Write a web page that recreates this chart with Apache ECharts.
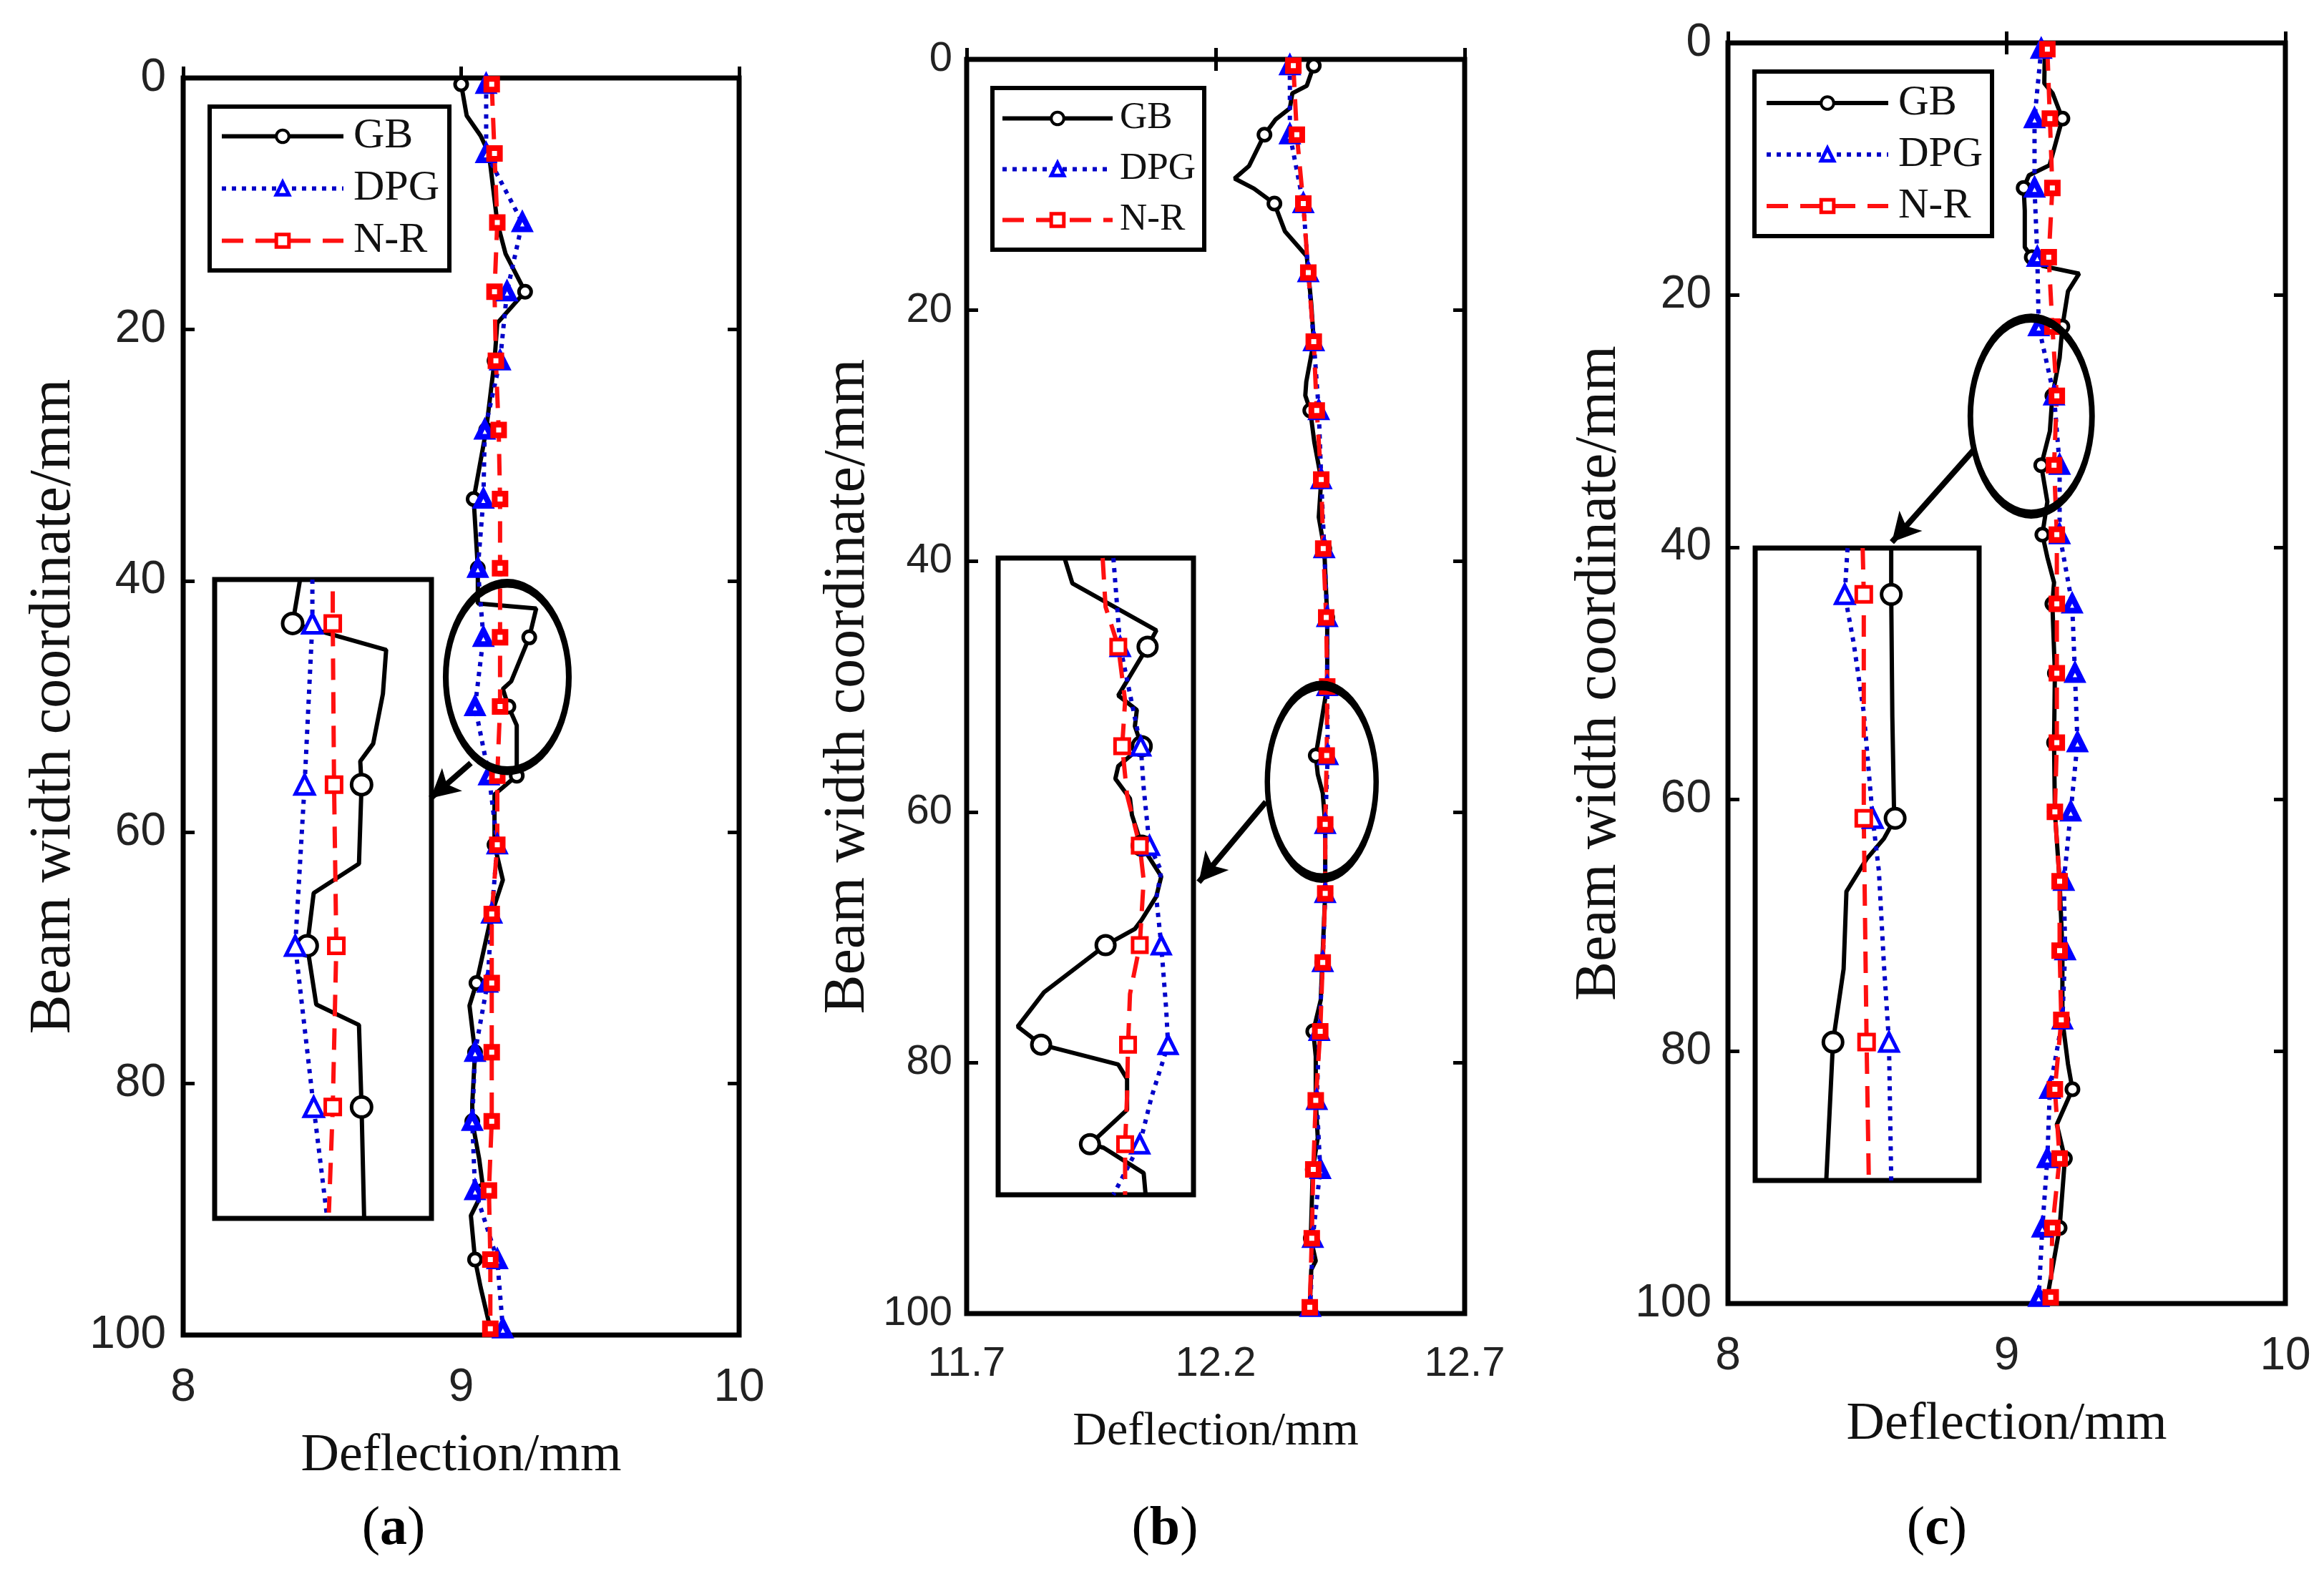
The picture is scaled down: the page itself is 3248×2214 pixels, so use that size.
<!DOCTYPE html>
<html>
<head>
<meta charset="utf-8">
<title>Deflection along the beam width</title>
<script src="https://cdn.jsdelivr.net/npm/echarts@6/dist/echarts.min.js"></script>
<style>
  html, body { margin: 0; padding: 0; background: #fff; }
  #main { width: 3248px; height: 2214px; }
</style>
</head>
<body>
<div id="main"></div>
<script>
  // rows (beam width coordinate, mm) where the markers sit
  var markRows = [0.5, 6, 11.5, 17, 22.5, 28, 33.5, 39, 44.5, 50, 55.5, 61, 66.5, 72, 77.5, 83, 88.5, 94, 99.5];
  var seriesNames = ['GB', 'DPG', 'N-R'];

  // (a) deflection/mm
  var dpgA = [9.09, 9.09, 9.22, 9.165, 9.14, 9.085, 9.08, 9.06, 9.08, 9.05, 9.10, 9.13, 9.11, 9.095, 9.05, 9.04, 9.05, 9.13, 9.15];
  var nrA = [9.11, 9.12, 9.13, 9.12, 9.125, 9.135, 9.14, 9.14, 9.14, 9.14, 9.13, 9.13, 9.11, 9.11, 9.11, 9.11, 9.10, 9.105, 9.105];
  // GB: [width, deflection]
  var gbA = [[0.5, 9.00], [3, 9.02], [4.6, 9.07], [6, 9.10], [11.5, 9.13], [14, 9.16], [17, 9.23], [19.5, 9.13],
    [22.5, 9.12], [28, 9.09], [33.5, 9.045], [39, 9.06], [41.8, 9.06], [42.2, 9.27], [44.5, 9.245], [48, 9.18],
    [48.6, 9.15], [50, 9.17], [51.5, 9.20], [55.5, 9.20], [57, 9.12], [61, 9.12], [63.8, 9.15], [66.5, 9.11],
    [72, 9.055], [73.8, 9.03], [77.5, 9.05], [81.6, 9.04], [83, 9.04], [86, 9.065], [88.5, 9.08], [90.5, 9.035],
    [94, 9.05], [96.2, 9.07], [99.5, 9.105]];

  // (b)
  var dpgB = [12.349, 12.349, 12.376, 12.386, 12.397, 12.407, 12.412, 12.418, 12.424, 12.424, 12.425, 12.42, 12.42, 12.415, 12.408, 12.403, 12.41, 12.395, 12.39];
  var nrB = [12.356, 12.363, 12.376, 12.386, 12.397, 12.403, 12.412, 12.416, 12.422, 12.424, 12.423, 12.42, 12.42, 12.415, 12.41, 12.401, 12.396, 12.393, 12.389];
  var gbB = [[0.5, 12.397], [2.1, 12.383], [2.7, 12.354], [3.9, 12.349], [4.8, 12.32], [6, 12.298], [8.5, 12.267],
    [9.5, 12.238], [10.3, 12.277], [11.5, 12.318], [13.7, 12.339], [15.7, 12.383], [17, 12.386], [19.5, 12.392],
    [22.5, 12.397], [25.7, 12.382], [26.8, 12.38], [28, 12.39], [30.5, 12.398], [33.5, 12.412], [36.5, 12.407],
    [39, 12.418], [44.5, 12.424], [50, 12.424], [55.5, 12.401], [57, 12.405], [58.5, 12.415], [61, 12.42],
    [66.5, 12.42], [72, 12.414], [75, 12.411], [77.5, 12.396], [79.5, 12.401], [83, 12.401], [86, 12.405],
    [88.5, 12.395], [94, 12.391], [95.8, 12.401], [96.5, 12.392], [99.5, 12.389]];

  // (c)
  var dpgC = [9.124, 9.10, 9.10, 9.11, 9.115, 9.17, 9.19, 9.19, 9.235, 9.245, 9.254, 9.23, 9.205, 9.21, 9.20, 9.155, 9.146, 9.128, 9.115];
  var nrC = [9.146, 9.155, 9.164, 9.151, 9.164, 9.18, 9.17, 9.18, 9.18, 9.18, 9.18, 9.173, 9.19, 9.19, 9.196, 9.173, 9.19, 9.164, 9.158];
  var gbC = [[0.5, 9.137], [3.2, 9.135], [4, 9.165], [6, 9.20], [9.7, 9.154], [10.5, 9.08], [11.5, 9.061],
    [13.3, 9.065], [16.2, 9.065], [17, 9.09], [17.7, 9.13], [18.3, 9.26], [19.7, 9.22], [22.5, 9.20], [25, 9.19],
    [28, 9.164], [30.8, 9.155], [33.5, 9.124], [36.4, 9.146], [39, 9.128], [40.8, 9.146], [42.8, 9.17],
    [44.5, 9.164], [50, 9.173], [55.5, 9.17], [61, 9.173], [66.5, 9.19], [72, 9.20], [77.5, 9.20], [81, 9.22],
    [83, 9.236], [85.8, 9.18], [88.5, 9.209], [94, 9.19], [99.5, 9.146]];

  // magnified insets: [width, deflection]
  var gbInA = [[43.0, 9.044], [44.5, 9.021], [45.4, 9.31], [46.9, 9.30], [48.6, 9.27], [49.2, 9.23], [50, 9.234],
    [52.7, 9.226], [53.7, 9.086], [55.5, 9.066], [57.5, 9.094], [58.2, 9.226], [61, 9.234], [64.8, 9.242]];
  var dpgInA = [[43.0, 9.082], [44.5, 9.082], [50, 9.058], [55.5, 9.029], [61, 9.086], [64.8, 9.128]];
  var nrInA = [[43.4, 9.145], [44.5, 9.145], [50, 9.149], [55.5, 9.156], [61, 9.145], [64.6, 9.133]];

  var gbInB = [[39.6, 12.368], [41.0, 12.376], [43.6, 12.462], [44.5, 12.453], [47.2, 12.423], [48.0, 12.442],
    [48.9, 12.44], [50, 12.447], [51.1, 12.423], [51.8, 12.42], [52.9, 12.435], [53.8, 12.437], [55.5, 12.447],
    [57.2, 12.467], [58.3, 12.462], [59.6, 12.447], [60.1, 12.44], [61, 12.41], [63.6, 12.347], [65.5, 12.32],
    [66.5, 12.344], [67.6, 12.423], [68.4, 12.432], [70.1, 12.432], [72, 12.394], [72.2, 12.408], [73.6, 12.449],
    [74.8, 12.451]];
  var dpgInB = [[39.6, 12.418], [44.5, 12.425], [50, 12.446], [52.3, 12.449], [55.5, 12.455], [56.9, 12.467],
    [58.4, 12.462], [61, 12.467], [64.5, 12.472], [66.5, 12.474], [69.4, 12.457], [72, 12.445], [74.8, 12.418]];
  var nrInB = [[39.6, 12.407], [42.3, 12.41], [44.5, 12.423], [47.5, 12.43], [50, 12.427], [52.7, 12.432],
    [55.5, 12.445], [57.4, 12.449], [61, 12.445], [63.7, 12.435], [66.5, 12.433], [69.3, 12.432], [72, 12.43],
    [74.8, 12.43]];

  var gbInC = [[26.86, 9.193], [28, 9.193], [31.0, 9.195], [33.3, 9.198], [33.5, 9.2], [34.0, 9.18], [34.5, 9.149],
    [35.3, 9.113], [37.2, 9.108], [39, 9.089], [42.4, 9.077]];
  var dpgInC = [[26.86, 9.115], [28, 9.11], [29.2, 9.126], [30.9, 9.144], [33.5, 9.16], [34.8, 9.171],
    [37.1, 9.18], [39, 9.189], [42.4, 9.193]];
  var nrInC = [[26.86, 9.142], [28, 9.144], [33.5, 9.144], [39, 9.149], [42.4, 9.153]];

  var serif = "'Liberation Serif', 'Times New Roman', serif";
  var sans = "'Liberation Sans', Arial, sans-serif";
  var ellipsePath = 'path://M0,50 A50,50 0 1,1 100,50 A50,50 0 1,1 0,50 Z';

  // white-filled markers so the stroke width also holds in the legend
  var look = {
    'GB': { color: '#000000', line: '#000000', symbol: 'circle', type: 'solid', width: 6, border: 5 },
    'DPG': { color: '#0000ff', line: '#0000c8', symbol: 'triangle', type: [6, 8], width: 6, border: 6 },
    'N-R': { color: '#ff0000', line: '#ff1010', symbol: 'rect', type: [30, 17], width: 6, border: 6 }
  };

  // pair the marker-only curves with their rows
  function withRows(vals) {
    return vals.map(function (v, i) { return [markRows[i], v]; });
  }

  // [width, deflection] -> [deflection, width]; only marker rows get a symbol
  function toData(points) {
    return points.map(function (p) {
      var item = { value: [p[1], p[0]] };
      if (markRows.indexOf(p[0]) < 0) item.symbol = 'none';
      return item;
    });
  }

  function curve(name, points, axis, size, border) {
    var s = look[name];
    return {
      name: name,
      type: 'line',
      xAxisIndex: axis,
      yAxisIndex: axis,
      symbol: s.symbol,
      symbolSize: size,
      showAllSymbol: true,
      itemStyle: { color: '#fff', borderColor: s.color, borderWidth: border },
      lineStyle: { color: s.line, width: s.width, type: s.type, cap: 'butt' },
      data: toData(points)
    };
  }

  // ellipse around the zoomed region plus the arrow to the inset
  function ring(axis, center, w, h, from, to) {
    return {
      type: 'scatter',
      xAxisIndex: axis,
      yAxisIndex: axis,
      silent: true,
      z: 5,
      symbol: ellipsePath,
      symbolSize: [w, h],
      itemStyle: { color: 'rgba(0,0,0,0)', borderColor: '#000', borderWidth: 10, opacity: 1 },
      data: [center],
      markLine: {
        silent: true,
        symbol: ['none', 'arrow'],
        symbolSize: [32, 40],
        label: { show: false },
        lineStyle: { color: '#000', width: 8, type: 'solid', opacity: 1 },
        data: [[{ coord: from }, { coord: to }]]
      }
    };
  }

  function gridBox(left, top, width, height) {
    return {
      left: left, top: top, width: width, height: height,
      show: true, backgroundColor: '#fff', borderColor: '#000', borderWidth: 7,
      containLabel: false, outerBoundsMode: 'none'
    };
  }

  var tick = { inside: true, length: 16, lineStyle: { color: '#000', width: 5 } };

  function xMain(grid, min, max, step, fs, nameFs) {
    return {
      type: 'value', gridIndex: grid, min: min, max: max, interval: step, position: 'bottom',
      name: 'Deflection/mm', nameLocation: 'middle', nameGap: 133,
      nameTextStyle: { fontFamily: serif, fontSize: nameFs, color: '#111' },
      axisLine: { show: false }, axisTick: tick, splitLine: { show: false },
      axisLabel: { fontFamily: sans, fontSize: fs, color: '#222', margin: 42 }
    };
  }
  function xTop(grid, min, max, step) {
    return {
      type: 'value', gridIndex: grid, min: min, max: max, interval: step, position: 'top',
      axisLine: { show: false }, axisTick: tick, splitLine: { show: false }, axisLabel: { show: false }
    };
  }
  function yMain(grid, fs, gap, margin) {
    return {
      type: 'value', gridIndex: grid, min: 0, max: 100, interval: 20, inverse: true, position: 'left',
      name: 'Beam width coordinate/mm', nameLocation: 'middle', nameGap: gap,
      nameTextStyle: { fontFamily: serif, fontSize: 82, color: '#111' },
      axisLine: { show: false }, axisTick: tick, splitLine: { show: false },
      axisLabel: { fontFamily: sans, fontSize: fs, color: '#222', margin: margin }
    };
  }
  function yRight(grid) {
    return {
      type: 'value', gridIndex: grid, min: 0, max: 100, interval: 20, inverse: true, position: 'right',
      axisLine: { show: false }, axisTick: tick, splitLine: { show: false }, axisLabel: { show: false }
    };
  }
  function hidden(grid, min, max, inverse) {
    return { type: 'value', gridIndex: grid, min: min, max: max, inverse: inverse, show: false };
  }

  // legend entries carry the full line and marker stroke widths
  var legendItems = seriesNames.map(function (n) {
    var s = look[n];
    return {
      name: n,
      lineStyle: { color: s.line, width: s.width, type: s.type },
      itemStyle: { color: '#fff', borderColor: s.color, borderWidth: s.border - 1 }
    };
  });

  function legendBox(left, top, itemW, fs, pitch, pad, textGap) {
    return {
      orient: 'vertical', left: left, top: top,
      data: legendItems,
      selectedMode: false,
      itemWidth: itemW, itemHeight: 22, itemGap: 0,
      padding: pad,
      backgroundColor: '#fff', borderColor: '#000', borderWidth: 6, borderRadius: 0,
      textStyle: { fontFamily: serif, fontSize: fs, lineHeight: pitch, color: '#111', padding: [0, 0, 0, textGap] }
    };
  }

  function panelLabel(x, letter) {
    return {
      type: 'text', x: x, y: 2138,
      style: {
        text: '{p|(}{b|' + letter + '}{p|)}',
        textAlign: 'center', textVerticalAlign: 'middle',
        rich: {
          p: { fontFamily: serif, fontSize: 76, color: '#000' },
          b: { fontFamily: serif, fontSize: 76, fontWeight: 'bold', color: '#000' }
        }
      }
    };
  }

  var series = [
    curve('GB', gbA, 0, 17, 5), curve('DPG', withRows(dpgA), 0, 19, 8), curve('N-R', withRows(nrA), 0, 15, 8),
    curve('GB', gbB, 2, 17, 5), curve('DPG', withRows(dpgB), 2, 19, 8), curve('N-R', withRows(nrB), 2, 15, 8),
    curve('GB', gbC, 4, 17, 5), curve('DPG', withRows(dpgC), 4, 19, 8), curve('N-R', withRows(nrC), 4, 15, 8),
    curve('GB', gbInA, 6, 28, 5), curve('DPG', dpgInA, 6, 26, 5), curve('N-R', nrInA, 6, 21, 5),
    curve('GB', gbInB, 7, 26, 5), curve('DPG', dpgInB, 7, 24, 5), curve('N-R', nrInB, 7, 20, 5),
    curve('GB', gbInC, 8, 27, 5), curve('DPG', dpgInC, 8, 25, 5), curve('N-R', nrInC, 8, 21, 5),
    ring(0, [9.166, 47.65], 172, 262, [9.035, 54.5], [8.89, 57.3]),
    ring(2, [12.413, 57.6], 152, 269, [12.301, 59.2], [12.166, 65.6]),
    ring(4, [9.088, 29.6], 170, 274, [8.883, 32.25], [8.588, 39.6])
  ];

  var myChart = echarts.init(document.getElementById('main'), null, { renderer: 'canvas' });

  var option = {
    animation: false,
    backgroundColor: '#fff',
    grid: [
      gridBox(256, 109, 777, 1757),
      gridBox(1351, 83, 696, 1753),
      gridBox(2415, 60, 779, 1762),
      gridBox(300, 810, 303, 893),
      gridBox(1395, 780, 273, 890),
      gridBox(2453, 766, 313, 884)
    ],
    xAxis: [
      xMain(0, 8, 10, 1, 64, 74), xTop(0, 8, 10, 1),
      xMain(1, 11.7, 12.7, 0.5, 58, 66), xTop(1, 11.7, 12.7, 0.5),
      xMain(2, 8, 10, 1, 64, 74), xTop(2, 8, 10, 1),
      hidden(3, 8.78, 9.45, false),
      hidden(4, 12.30, 12.50, false),
      hidden(5, 8.95, 9.35, false)
    ],
    yAxis: [
      yMain(0, 64, 140, 24), yRight(0),
      yMain(1, 58, 125, 20), yRight(1),
      yMain(2, 64, 139, 23), yRight(2),
      hidden(3, 43.0, 64.8, true),
      hidden(4, 39.6, 74.8, true),
      hidden(5, 26.86, 42.4, true)
    ],
    legend: [
      legendBox(293, 149, 170, 60, 73, [5, 14, 5, 14], 9),
      legendBox(1387, 123, 154, 53, 71, [7, 12, 6, 11], 5),
      legendBox(2452, 100, 170, 59, 72, [8, 13, 6, 14], 9)
    ],
    graphic: [panelLabel(550, 'a'), panelLabel(1628, 'b'), panelLabel(2707, 'c')],
    series: series
  };

  myChart.setOption(option);
</script>
</body>
</html>
